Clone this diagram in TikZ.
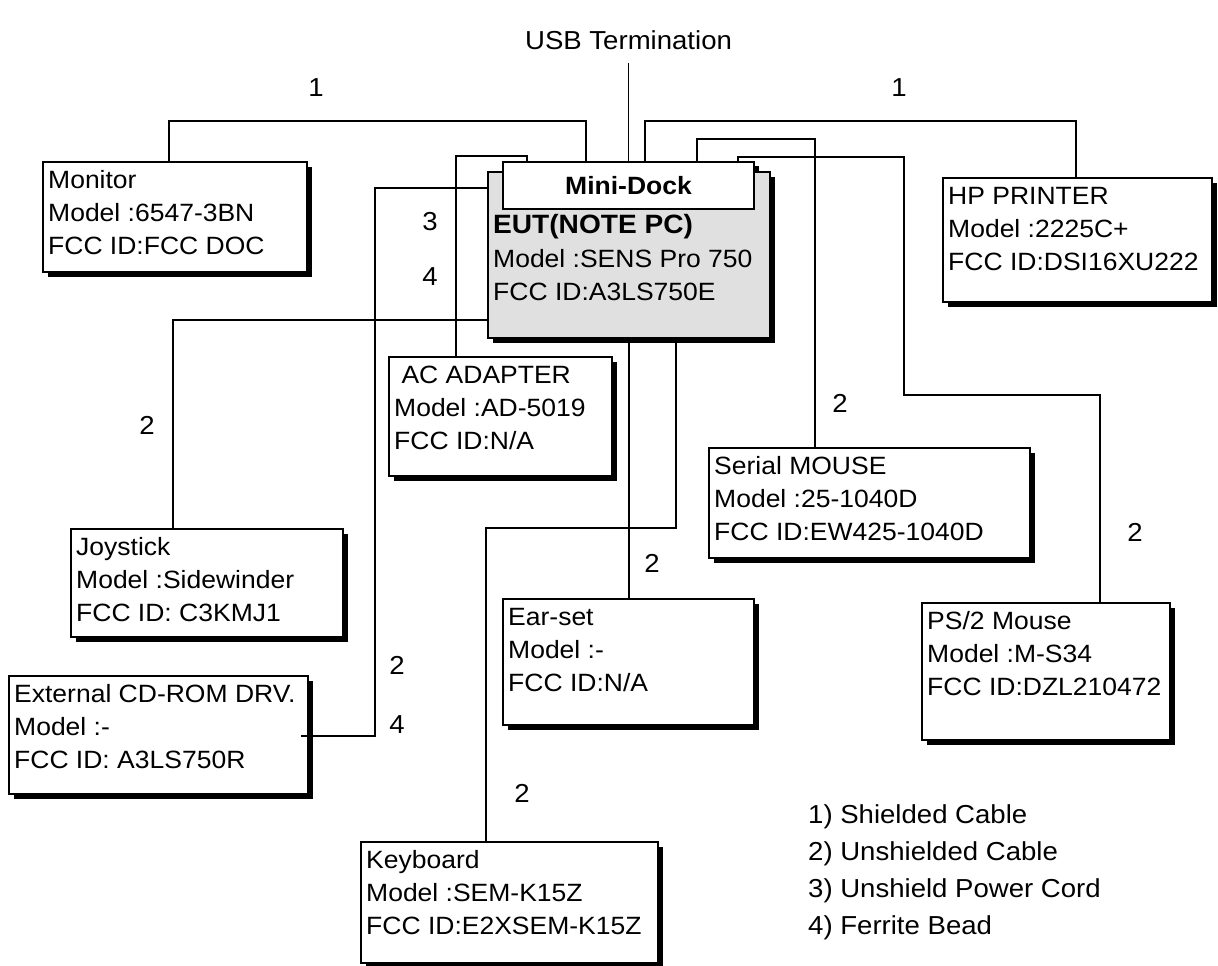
\documentclass[tikz,border=0pt]{standalone}
\usepackage{fontspec}
\setmainfont{Liberation Sans}[FakeStretch=1.06]
\usetikzlibrary{shadows}
\definecolor{eutgray}{RGB}{224,224,224}
\newcommand\bxfont{\fontsize{25}{30}\selectfont}
\newcommand\lbfont{\fontsize{26}{30}\selectfont}
\newcommand\mydevtext[4]{\path (#1.north west) ++(5,26) node[txt]{#2} ++(0,33) node[txt]{#3} ++(0,33) node[txt]{#4};}
\begin{document}
\begin{tikzpicture}[x=1pt,y=-1pt,
  devbox/.style={draw, line width=1.4pt, fill=white, anchor=north west, inner sep=0pt, outer sep=0pt,
    drop shadow={shadow xshift=5pt, shadow yshift=-5pt, opacity=1, fill=black}},
  txt/.style={anchor=base west, inner sep=0pt, font=\bxfont},
  lbl/.style={inner sep=0pt, font=\lbfont},
  wire/.style={line width=1.3pt}]
\useasboundingbox (0,0) rectangle (1218,966);

% boxes
\node[devbox, minimum width=264pt, minimum height=110pt] (mon) at (43,162) {};
\node[devbox, minimum width=269pt, minimum height=124pt] (prt) at (943,178) {};
\node[devbox, minimum width=223pt, minimum height=119pt] (ac) at (389,357) {};
\node[devbox, minimum width=321pt, minimum height=110pt] (ser) at (709,448) {};
\node[devbox, minimum width=272pt, minimum height=108pt] (joy) at (71,529) {};
\node[devbox, minimum width=251pt, minimum height=126pt] (ear) at (503,599) {};
\node[devbox, minimum width=248pt, minimum height=137pt] (ps2) at (922,603) {};
\node[devbox, minimum width=299pt, minimum height=118pt] (cd) at (9,676) {};
\node[devbox, minimum width=297pt, minimum height=121pt] (kbd) at (361,842) {};

% EUT and Mini-Dock
\fill (507,166) rectangle (759,214);
\node[devbox, fill=eutgray, minimum width=282pt, minimum height=166pt] (eut) at (488,172) {};
\node[draw, line width=1.4pt, fill=white, anchor=north west, inner sep=0pt, outer sep=0pt,
      minimum width=251pt, minimum height=47pt, font=\bfseries\fontsize{25}{30}\selectfont] (dock) at (503,162) {Mini-Dock};

% texts
\mydevtext{mon}{Monitor}{Model :6547-3BN}{FCC ID:FCC DOC}
\mydevtext{prt}{HP PRINTER}{Model :2225C+}{FCC ID:DSI16XU222}
\mydevtext{ac}{\ AC ADAPTER}{Model :AD-5019}{FCC ID:N/A}
\mydevtext{ser}{Serial MOUSE}{Model :25-1040D}{FCC ID:EW425-1040D}
\mydevtext{joy}{Joystick}{Model :Sidewinder}{FCC ID: C3KMJ1}
\mydevtext{ear}{Ear-set}{Model :-}{FCC ID:N/A}
\mydevtext{ps2}{PS/2 Mouse}{Model :M-S34}{FCC ID:DZL210472}
\mydevtext{cd}{External CD-ROM DRV.}{Model :-}{FCC ID: A3LS750R}
\mydevtext{kbd}{Keyboard}{Model :SEM-K15Z}{FCC ID:E2XSEM-K15Z}
\path (eut.north west) ++(5,61) node[txt, font=\bfseries\fontsize{26.5}{30}\selectfont]{EUT(NOTE PC)}
  ++(0,34) node[txt]{Model :SENS Pro 750} ++(0,33) node[txt]{FCC ID:A3LS750E};

% USB termination
\node[lbl] (usb) at (628.5,40) {USB Termination};

% connectors
\coordinate (ps2bend) at (904,395);
\coordinate (cdend) at (301,736);
\draw[wire] (usb.south -| dock.north) ++(0,13) -- (dock.north);
\draw[wire] ([xshift=126pt]mon.north west) -- ++(0,-41) -| ([xshift=83pt]dock.north west);
\draw[wire] ([xshift=142pt]dock.north west) -- ++(0,-41) -| ([xshift=133pt]prt.north west);
\draw[wire] ([xshift=194pt]dock.north west) -- ++(0,-23) -| ([xshift=106pt]ser.north west);
\draw[wire] ([xshift=235pt]dock.north west) -- ++(0,-5) -| (ps2bend) -| ([xshift=178pt]ps2.north west);
\draw[wire] ([xshift=24pt]dock.north west) -- ++(0,-6) -| ([xshift=67pt]ac.north west);
\draw[wire] ([yshift=-16pt]eut.north west) -- ++(-113,0) |- (cdend);
\draw[wire] ([yshift=-148pt]eut.north west) -| ([xshift=102pt]joy.north west);
\draw[wire] ([xshift=141pt]eut.south west) -- ([xshift=126pt]ear.north west);
\draw[wire] ([xshift=188pt]eut.south west) -- ++(0,190) -| ([xshift=125pt]kbd.north west);

% cable labels
\node[lbl] at (316,88) {1};
\node[lbl] at (899,88) {1};
\node[lbl] at (430,222) {3};
\node[lbl] at (430,277) {4};
\node[lbl] at (147,425) {2};
\node[lbl] at (840,403) {2};
\node[lbl] at (652,563) {2};
\node[lbl] at (1135,532) {2};
\node[lbl] at (397,665) {2};
\node[lbl] at (397,725) {4};
\node[lbl] at (522,793) {2};

% legend
\node[lbl, anchor=base west] at (808,823) {1) Shielded Cable};
\node[lbl, anchor=base west] at (808,860) {2) Unshielded Cable};
\node[lbl, anchor=base west] at (808,897) {3) Unshield Power Cord};
\node[lbl, anchor=base west] at (808,934) {4) Ferrite Bead};
\end{tikzpicture}
\end{document}
